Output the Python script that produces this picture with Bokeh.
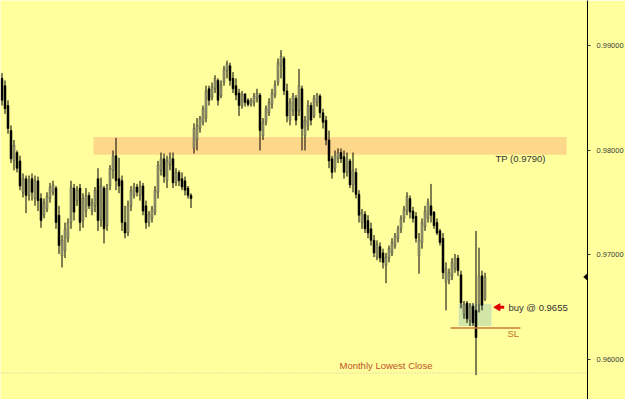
import numpy as np
from bokeh.plotting import figure
from bokeh.models import Range1d, FixedTicker, PrintfTickFormatter, Span, BoxAnnotation, Label
from bokeh.embed import file_html
from bokeh.resources import INLINE

# ---------------- data (prices) ----------------
open_ = [0.9869,0.9862,0.9843,0.9819,0.9790,0.9798,0.9790,0.9760,0.9773,0.9757,
         0.9773,0.9754,0.9771,0.9754,0.9738,0.9744,0.9754,0.9760,0.9764,0.9738,
         0.9699,0.9704,0.9716,0.9731,0.9764,0.9752,0.9764,0.9733,0.9742,0.9757,
         0.9742,0.9747,0.9773,0.9733,0.9764,0.9728,0.9766,0.9781,0.9795,0.9773,
         0.9771,0.9731,0.9721,0.9747,0.9757,0.9765,0.9757,0.9766,0.9747,0.9731,
         0.9735,0.9741,0.9760,0.9781,0.9792,0.9771,0.9786,0.9792,0.9769,0.9779,
         0.9773,0.9771,0.9764,0.9757,
         0.9802,0.9810,0.9821,0.9827,0.9831,0.9859,0.9851,0.9859,0.9867,0.9852,
         0.9865,0.9876,0.9881,0.9869,0.9862,0.9855,0.9843,0.9854,0.9848,0.9844,
         0.9846,0.9850,0.9853,0.9814,0.9827,0.9836,0.9844,0.9853,0.9865,0.9881,
         0.9888,0.9857,0.9829,0.9838,0.9850,0.9838,0.9859,0.9814,0.9824,0.9843,
         0.9833,0.9846,0.9852,0.9836,0.9829,0.9810,0.9792,0.9783,0.9792,0.9798,
         0.9794,0.9779,0.9790,0.9767,0.9779,0.9758,0.9731,0.9739,0.9733,0.9725,
         0.9714,0.9698,0.9708,0.9702,0.9690,0.9697,0.9702,0.9709,0.9716,0.9725,
         0.9735,0.9742,0.9754,0.9742,0.9737,0.9699,0.9712,0.9727,0.9735,0.9747,
         0.9741,0.9731,0.9723,0.9716,0.9674,0.9676,0.9680,0.9687,0.9697,0.9681,
         0.9643,0.9654,0.9637,0.9651,0.9647,0.9652,0.9680,0.9658]
high = [0.9874,0.9867,0.9848,0.9824,0.9810,0.9800,0.9795,0.9778,0.9776,0.9776,
        0.9778,0.9776,0.9775,0.9759,0.9754,0.9760,0.9769,0.9771,0.9766,0.9747,
        0.9719,0.9731,0.9735,0.9771,0.9768,0.9766,0.9768,0.9759,0.9764,0.9760,
        0.9754,0.9765,0.9783,0.9774,0.9766,0.9768,0.9786,0.9800,0.9812,0.9793,
        0.9776,0.9747,0.9752,0.9766,0.9769,0.9768,0.9771,0.9769,0.9752,0.9742,
        0.9747,0.9766,0.9790,0.9798,0.9797,0.9795,0.9798,0.9798,0.9783,0.9781,
        0.9779,0.9775,0.9766,0.9759,
        0.9826,0.9831,0.9833,0.9843,0.9862,0.9862,0.9865,0.9872,0.9869,0.9867,
        0.9881,0.9886,0.9884,0.9875,0.9869,0.9859,0.9857,0.9855,0.9850,0.9850,
        0.9855,0.9859,0.9855,0.9831,0.9843,0.9850,0.9859,0.9867,0.9888,0.9896,
        0.9890,0.9864,0.9850,0.9855,0.9853,0.9878,0.9862,0.9833,0.9848,0.9846,
        0.9853,0.9855,0.9854,0.9840,0.9833,0.9819,0.9795,0.9800,0.9802,0.9802,
        0.9800,0.9798,0.9792,0.9798,0.9783,0.9762,0.9744,0.9742,0.9738,0.9731,
        0.9719,0.9714,0.9712,0.9706,0.9702,0.9709,0.9716,0.9721,0.9728,0.9738,
        0.9747,0.9760,0.9757,0.9746,0.9741,0.9721,0.9735,0.9747,0.9754,0.9768,
        0.9742,0.9735,0.9725,0.9721,0.9693,0.9687,0.9697,0.9701,0.9700,0.9685,
        0.9656,0.9656,0.9654,0.9654,0.9723,0.9707,0.9685,0.9683]
low = [0.9843,0.9835,0.9816,0.9788,0.9781,0.9779,0.9762,0.9755,0.9740,0.9752,
       0.9752,0.9747,0.9742,0.9726,0.9735,0.9741,0.9750,0.9757,0.9725,0.9701,
       0.9688,0.9697,0.9712,0.9725,0.9733,0.9747,0.9723,0.9726,0.9736,0.9744,
       0.9738,0.9741,0.9723,0.9727,0.9711,0.9723,0.9762,0.9773,0.9762,0.9759,
       0.9723,0.9716,0.9718,0.9742,0.9754,0.9756,0.9752,0.9738,0.9725,0.9727,
       0.9731,0.9738,0.9754,0.9776,0.9769,0.9764,0.9781,0.9764,0.9766,0.9766,
       0.9762,0.9757,0.9754,0.9745,
       0.9797,0.9800,0.9817,0.9824,0.9827,0.9843,0.9848,0.9855,0.9843,0.9850,
       0.9862,0.9869,0.9862,0.9855,0.9848,0.9833,0.9840,0.9842,0.9842,0.9842,
       0.9842,0.9846,0.9800,0.9810,0.9824,0.9833,0.9840,0.9850,0.9862,0.9869,
       0.9853,0.9827,0.9824,0.9833,0.9824,0.9833,0.9800,0.9800,0.9819,0.9824,
       0.9831,0.9842,0.9831,0.9821,0.9805,0.9783,0.9773,0.9779,0.9788,0.9788,
       0.9773,0.9775,0.9764,0.9760,0.9754,0.9731,0.9725,0.9721,0.9716,0.9709,
       0.9698,0.9695,0.9693,0.9687,0.9673,0.9693,0.9699,0.9706,0.9712,0.9721,
       0.9731,0.9738,0.9735,0.9731,0.9712,0.9682,0.9706,0.9723,0.9731,0.9731,
       0.9725,0.9719,0.9709,0.9677,0.9647,0.9672,0.9676,0.9683,0.9680,0.9649,
       0.9639,0.9635,0.9632,0.9632,0.9585,0.9645,0.9647,0.9656]
close = [0.9848,0.9840,0.9821,0.9792,0.9805,0.9783,0.9766,0.9773,0.9757,0.9771,
         0.9760,0.9771,0.9752,0.9733,0.9750,0.9756,0.9765,0.9767,0.9731,0.9709,
         0.9714,0.9725,0.9731,0.9765,0.9741,0.9762,0.9731,0.9754,0.9757,0.9747,
         0.9750,0.9762,0.9733,0.9766,0.9725,0.9764,0.9783,0.9795,0.9771,0.9766,
         0.9731,0.9721,0.9747,0.9762,0.9765,0.9760,0.9766,0.9742,0.9731,0.9739,
         0.9744,0.9762,0.9786,0.9792,0.9775,0.9790,0.9793,0.9769,0.9779,0.9771,
         0.9765,0.9762,0.9757,0.9754,
         0.9821,0.9824,0.9831,0.9840,0.9857,0.9848,0.9861,0.9869,0.9848,0.9863,
         0.9878,0.9883,0.9867,0.9859,0.9853,0.9843,0.9854,0.9846,0.9844,0.9848,
         0.9852,0.9855,0.9819,0.9827,0.9840,0.9846,0.9855,0.9863,0.9884,0.9890,
         0.9857,0.9833,0.9846,0.9852,0.9829,0.9862,0.9821,0.9829,0.9843,0.9829,
         0.9850,0.9853,0.9836,0.9827,0.9810,0.9790,0.9779,0.9795,0.9798,0.9792,
         0.9779,0.9792,0.9767,0.9781,0.9758,0.9738,0.9741,0.9725,0.9721,0.9714,
         0.9702,0.9710,0.9697,0.9693,0.9698,0.9706,0.9712,0.9718,0.9725,0.9735,
         0.9744,0.9756,0.9741,0.9735,0.9716,0.9714,0.9731,0.9742,0.9750,0.9738,
         0.9728,0.9721,0.9712,0.9683,0.9687,0.9683,0.9693,0.9697,0.9685,0.9654,
         0.9653,0.9639,0.9651,0.9635,0.9621,0.9680,0.9652,0.9679]

price_ticks = [0.96, 0.97, 0.98, 0.99]
tp_zone = (0.9796, 0.9813)
tp_label = "TP (0.9790)"
entry_zone = (0.9632, 0.9653)
buy_label = "buy @ 0.9655"
buy_label_price = 0.9650
sl_price = 0.9630
monthly_low_close = 0.9587
monthly_label = "Monthly Lowest Close"

# ---------------- figure ----------------
BG = "#FFFF9E"
FRAME_W, FRAME_H = 587, 399
PX = 3.0  # pixels per bar
x_end = FRAME_W / PX - 0.5
y_lo, y_hi = 0.95617, 0.99435
py = (y_hi - y_lo) / FRAME_H  # price per pixel

p = figure(frame_width=FRAME_W, frame_height=FRAME_H, output_backend="svg",
           toolbar_location=None, x_axis_location=None, y_axis_location="right",
           x_range=Range1d(-0.5, x_end), y_range=Range1d(y_lo, y_hi),
           min_border_left=0, min_border_top=0, min_border_bottom=0, min_border_right=38,
           background_fill_color=BG, border_fill_color=BG, outline_line_color=None)
p.grid.visible = False

ax = p.yaxis[0]
ax.ticker = FixedTicker(ticks=price_ticks)
ax.formatter = PrintfTickFormatter(format="%.5f")
ax.minor_tick_line_color = None
ax.major_tick_in = 0
ax.major_tick_out = 3
ax.major_tick_line_color = "#333333"
ax.axis_line_color = "black"
ax.axis_line_width = 1
ax.major_label_standoff = 6
ax.major_label_text_font = "Liberation Sans"
ax.major_label_text_font_size = "7.5px"
ax.major_label_text_color = "#3a3a3a"

# zones
p.add_layout(BoxAnnotation(left=30.5, right=188.2, bottom=tp_zone[0], top=tp_zone[1],
                           fill_color="#FDD78A", fill_alpha=1.0, line_color=None,
                           level="underlay"))
p.add_layout(BoxAnnotation(left=152.2, right=163.2, bottom=entry_zone[0], top=entry_zone[1],
                           fill_color="#D2E6A6", fill_alpha=1.0, line_color="#F2F7E2",
                           line_width=1, level="underlay"))
p.add_layout(Span(location=monthly_low_close, dimension="width", line_color="#C4C4AE",
                  line_dash="1 2", line_width=1))

# candles
o = np.array(open_); h = np.array(high); l = np.array(low); c = np.array(close)
x = np.arange(len(c))
inc = c >= o
p.segment(x, h, x, l, line_color="black", line_width=1)
p.vbar(x[inc], width=0.62, top=c[inc], bottom=o[inc], fill_color="#A3A37B",
       line_color="#55553e", line_width=0.6)
p.vbar(x[~inc], width=0.62, top=o[~inc], bottom=c[~inc], fill_color="black",
       line_color="black", line_width=0.6)

# stop loss line
p.segment([149.5], [sl_price], [172.8], [sl_price], line_color="#C8783C", line_width=1.5)

# arrow
p.scatter([165.3], [buy_label_price], marker="triangle", size=7, angle=np.pi / 2,
          fill_color="#E00000", line_color="#E00000")
p.segment([165.8], [buy_label_price], [167.4], [buy_label_price], line_color="#E00000",
          line_width=3)

# current price marker at the axis (last close)
last = close[-1]
p.patch([x_end - 1.3, x_end, x_end], [last, last + 3.5 * py, last - 3.5 * py],
        fill_color="black", line_color="black", line_width=0.5)

# labels
font = "Liberation Sans"
p.add_layout(Label(x=164.5, y=0.9792, text=tp_label, text_font=font, text_font_size="9.5px",
                   text_color="#333333", text_baseline="middle"))
p.add_layout(Label(x=168.8, y=buy_label_price, text=buy_label, text_font=font,
                   text_font_size="9.5px", text_color="#333333", text_baseline="middle"))
p.add_layout(Label(x=168.5, y=0.9625, text="SL", text_font=font, text_font_size="9.5px",
                   text_color="#C0702A", text_baseline="middle"))
p.add_layout(Label(x=112.5, y=0.9594, text=monthly_label, text_font=font,
                   text_font_size="9.5px", text_color="#C05028", text_baseline="middle"))

open("out.html", "w").write(file_html(p, INLINE))
